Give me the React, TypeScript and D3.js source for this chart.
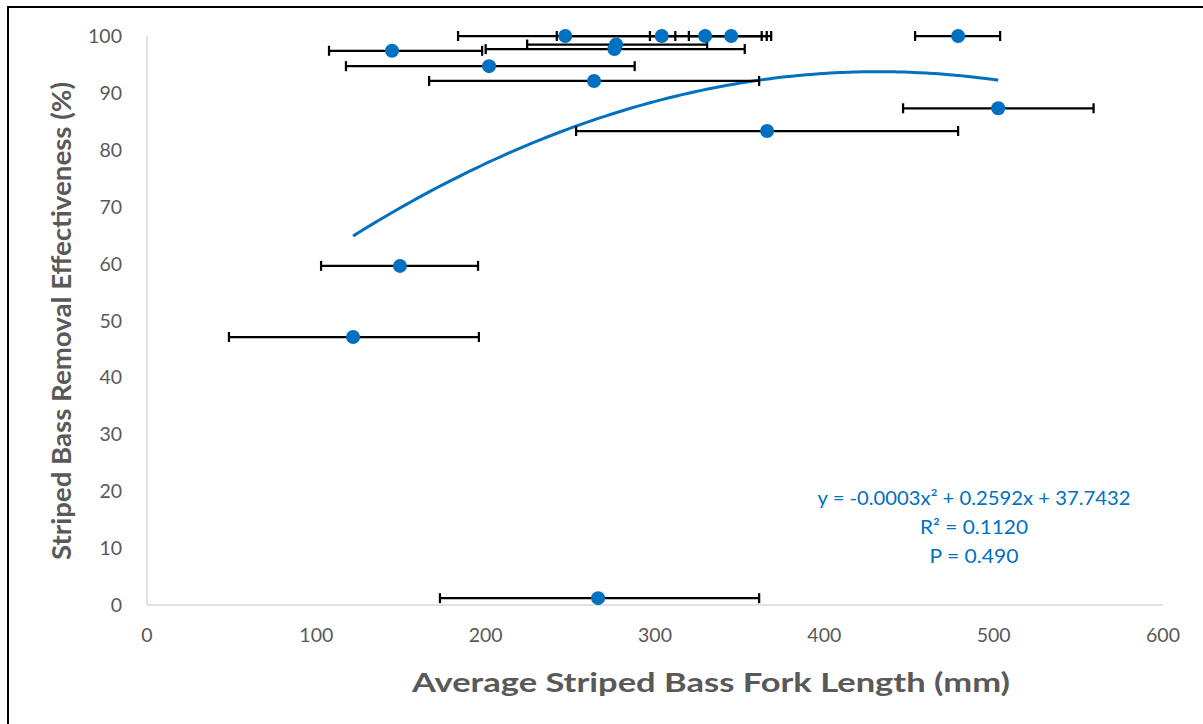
import React from "react";
import * as d3 from "d3";

const lengths = [144.7, 202, 264, 247, 304, 329.6, 345, 479, 277, 276, 502.7, 366.2, 149.4, 121.7, 266.4];
const effectiveness = [97.4, 94.7, 92.1, 100, 100, 100, 100, 100, 98.5, 97.7, 87.3, 83.3, 59.6, 47.1, 1.2];
const barLow = [107.5, 117.5, 166.6, 183.7, 242, 297, 320, 453.6, 224.5, 200, 446.5, 253.4, 102.8, 48.4, 173];
const barHigh = [197.9, 288, 361.5, 312, 366, 363, 368.6, 503.8, 330.8, 353, 559, 479, 195.5, 196, 361.5];
const xTicks = [0, 100, 200, 300, 400, 500, 600];
const yTicks = [0, 10, 20, 30, 40, 50, 60, 70, 80, 90, 100];
const coef = [-0.0003, 0.2592, 37.7432];
const eqLines = ["y = -0.0003x² + 0.2592x + 37.7432", "R² = 0.1120", "P = 0.490"];
const eqWidths = [313, 108, 89];

export default function App() {
  const W = 1203, H = 724;
  const x = d3.scaleLinear().domain([0, 600]).range([147, 1163]);
  const y = d3.scaleLinear().domain([0, 100]).range([605, 36]);
  const xmin = d3.min(lengths)!, xmax = d3.max(lengths)!;
  const trendPts = d3.range(0, 101).map((i) => {
    const xv = xmin + ((xmax - xmin) * i) / 100;
    return [xv, coef[0] * xv * xv + coef[1] * xv + coef[2]] as [number, number];
  });
  const line = d3.line<[number, number]>().x((d) => x(d[0])).y((d) => y(d[1])).curve(d3.curveBasis);
  const font = "Lato, 'Open Sans', sans-serif";
  const blue = "#0070C0";
  return (
    <svg width={W} height={H} style={{ position: "absolute", left: 0, top: 0, background: "#fff" }}>
      <rect x={0} y={0} width={W} height={H} fill="#fff" />
      <line x1={8} y1={7} x2={8} y2={H} stroke="#000" strokeWidth={2} />
      <line x1={7} y1={7} x2={W} y2={7} stroke="#000" strokeWidth={2} />
      {/* axes */}
      <line x1={x(0)} y1={y(100)} x2={x(0)} y2={y(0)} stroke="#d9d9d9" strokeWidth={1.5} />
      <line x1={x(0)} y1={y(0)} x2={x(600)} y2={y(0)} stroke="#d9d9d9" strokeWidth={1.5} />
      {yTicks.map((t) => (
        <text key={"y" + t} x={122} y={y(t) + 7} textAnchor="end" fontFamily={font} fontSize={19.5} fill="#595959">
          {t}
        </text>
      ))}
      {xTicks.map((t) => (
        <text key={"x" + t} x={x(t)} y={642} textAnchor="middle" fontFamily={font} fontSize={19.5} fill="#595959">
          {t}
        </text>
      ))}
      <text
        x={412}
        y={692}
        fontFamily={font}
        fontSize={27}
        fontWeight="bold"
        fill="#595959"
        textLength={598}
        lengthAdjust="spacingAndGlyphs"
      >
        Average Striped Bass Fork Length (mm)
      </text>
      <text
        transform={`translate(71,560) rotate(-90)`}
        fontFamily={font}
        fontSize={26}
        fontWeight="bold"
        fill="#595959"
        textLength={478}
        lengthAdjust="spacingAndGlyphs"
      >
        Striped Bass Removal Effectiveness (%)
      </text>
      {/* trend */}
      <path d={line(trendPts)!} fill="none" stroke={blue} strokeWidth={3} />
      {/* error bars */}
      {lengths.map((_, i) => (
        <g key={"e" + i} stroke="#000" strokeWidth={2.25}>
          <line x1={x(barLow[i])} x2={x(barHigh[i])} y1={y(effectiveness[i])} y2={y(effectiveness[i])} />
          <line x1={x(barLow[i])} x2={x(barLow[i])} y1={y(effectiveness[i]) - 5} y2={y(effectiveness[i]) + 5} />
          <line x1={x(barHigh[i])} x2={x(barHigh[i])} y1={y(effectiveness[i]) - 5} y2={y(effectiveness[i]) + 5} />
        </g>
      ))}
      {lengths.map((v, i) => (
        <circle key={"p" + i} cx={x(v)} cy={y(effectiveness[i])} r={7} fill={blue} />
      ))}
      {eqLines.map((s, i) => (
        <text
          key={"q" + i}
          x={974 - eqWidths[i] / 2}
          y={505 + i * 29}
          fontFamily={font}
          fontSize={19.5}
          fill={blue}
          textLength={eqWidths[i]}
          lengthAdjust="spacingAndGlyphs"
        >
          {s}
        </text>
      ))}
    </svg>
  );
}
